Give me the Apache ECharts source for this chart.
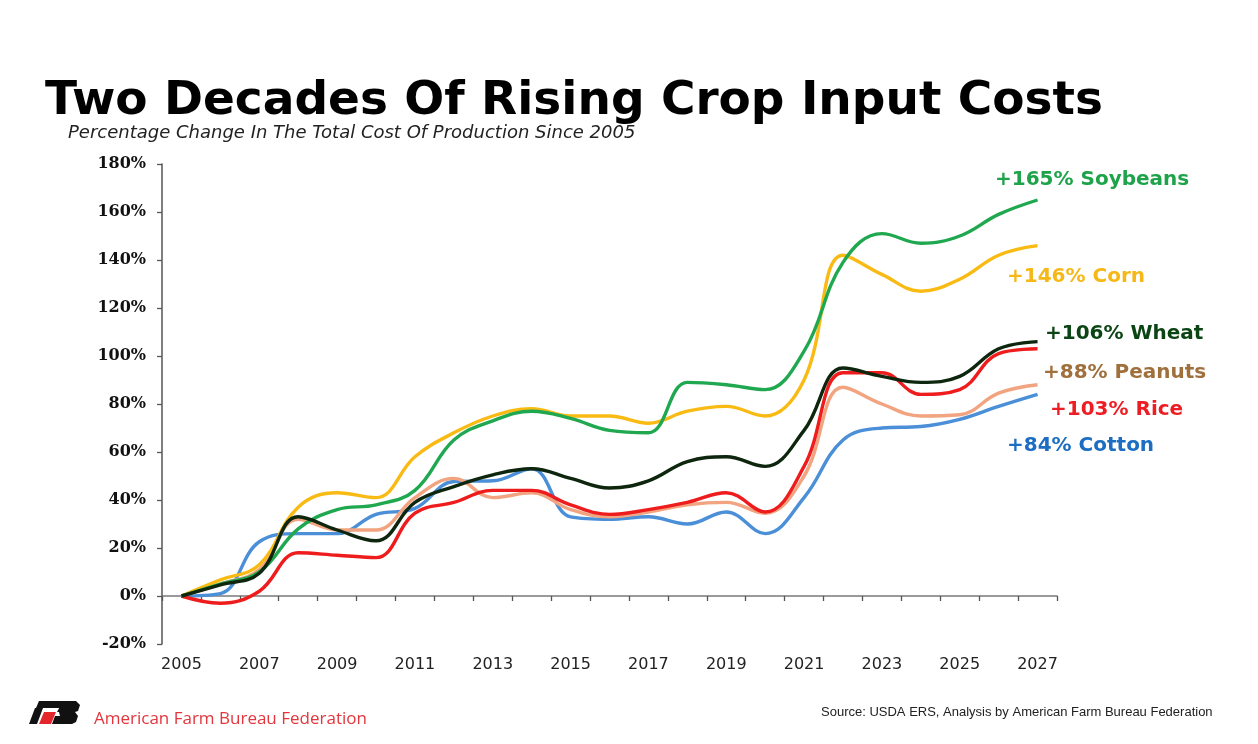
<!DOCTYPE html>
<html>
<head>
<meta charset="utf-8">
<title>Two Decades Of Rising Crop Input Costs</title>
<script src="https://cdn.jsdelivr.net/npm/echarts@6/dist/echarts.min.js"></script>
<style>
	html, body { margin: 0; padding: 0; background: #fff; }
	#main { width: 1258px; height: 744px; }
</style>
</head>
<body>
<div id="main"></div>
<script>
// 年份
var years = ['2005', '2006', '2007', '2008', '2009', '2010', '2011', '2012', '2013', '2014', '2015', '2016',
	'2017', '2018', '2019', '2020', '2021', '2022', '2023', '2024', '2025', '2026', '2027'];

// 各作物 相对2005 的变化 (%)
var soybeans = [0, 5, 10, 28, 36, 38, 44, 65, 73, 77, 74, 69, 68, 89, 88, 86, 102, 139, 151, 147, 150, 159, 165];
var corn = [0, 6.7, 13, 37, 43, 41, 58, 68, 75, 78, 75, 75, 72, 77, 79, 75, 90, 142, 134, 127, 132, 142, 146];
var wheat = [0, 4.6, 9.5, 33, 27.5, 23, 39, 45.6, 50.5, 53, 49, 45, 48, 56, 58, 54, 69, 95, 91.5, 89, 91.5, 103, 106];
var peanuts = [0, 5, 11, 32, 27.5, 27.5, 41, 49, 41, 43, 36, 33, 35, 38, 39, 34.5, 50, 87, 80, 75, 75.5, 84.5, 88];
var rice = [0, -3, 2, 18, 17, 16, 34.5, 39, 44, 44, 38, 34, 36, 39, 43, 35, 54, 93, 93, 84, 86, 101, 103];
var cotton = [0, 1, 22.6, 26, 26, 34, 36.5, 47.7, 48, 53, 33, 32, 33, 30, 35, 26, 41, 65, 70, 70.6, 73.6, 79, 84];

// 右侧标注
var cropNames = ['Soybeans', 'Corn', 'Wheat', 'Peanuts', 'Rice', 'Cotton'];
var endValues = [165, 146, 106, 88, 103, 84];

var lineColors = ['#1fa84f', '#f9bb13', '#0d260d', '#f1a47f', '#ee1c1c', '#4a8fd8'];
var labelColors = ['#1ea34a', '#f6b817', '#0b4514', '#a0703c', '#ee1d23', '#1b6ec2'];
var labelPos = [[995, 178], [1007, 275], [1045, 332], [1043, 371], [1050, 408], [1007, 444]];

var myChart = echarts.init(document.getElementById('main'));

var seriesData = [soybeans, corn, wheat, peanuts, rice, cotton];
// 画的先后顺序 (后画的在上面)
var drawOrder = [5, 3, 4, 1, 0, 2];
var series = [];
drawOrder.forEach(function(i) {
	series.push({
		name: cropNames[i],
		type: 'line',
		xAxisIndex: 0,
		data: seriesData[i],
		smooth: 0.4,
		showSymbol: false,
		symbol: 'none',
		lineStyle: { color: lineColors[i], width: 3.4 },
		z: 3
	});
});

var graphics = [
	{
		type: 'text', left: 45, top: 78,
		style: { text: 'Two Decades Of Rising Crop Input Costs', fill: '#000',
			font: 'bold 47px "DejaVu Sans"' }
	},
	{
		type: 'text', left: 68, top: 124,
		style: { text: 'Percentage Change In The Total Cost Of Production Since 2005', fill: '#222',
			font: 'italic 18px "DejaVu Sans"' }
	},
	// 底部 logo (简化)
	{
		type: 'polygon', shape: { points: [[39, 701], [64, 701], [61, 708], [36, 708]] },
		style: { fill: '#111' }
	},
	{
		type: 'polygon', shape: { points: [[35, 708], [43, 708], [37, 724], [29, 724]] },
		style: { fill: '#111' }
	},
	{
		type: 'polygon', shape: { points: [[44, 712], [56, 712], [51, 724], [39, 724]] },
		style: { fill: '#e2262c' }
	},
	{
		type: 'polygon', shape: { points: [[63, 701], [76, 701], [80, 705], [78, 711], [75, 712], [78, 716], [76, 722], [72, 724], [52, 724], [55, 716], [60, 716], [59, 712], [57, 712]] },
		style: { fill: '#111' }
	},
	{
		type: 'text', left: 94, top: 711,
		style: { text: 'American Farm Bureau Federation', fill: '#e2363c', font: '17px "Open Sans"' }
	},
	{
		type: 'text', left: 821, top: 706,
		style: { text: 'Source: USDA ERS, Analysis by American Farm Bureau Federation', fill: '#222',
			font: '13px "Liberation Sans Narrow", "Liberation Sans"' }
	}
];

cropNames.forEach(function(name, i) {
	graphics.push({
		type: 'text', left: labelPos[i][0], top: labelPos[i][1] - 8,
		style: { text: '+' + endValues[i] + '% ' + name, fill: labelColors[i],
			font: 'bold 20px "DejaVu Sans"' }
	});
});

var option = {
	backgroundColor: '#fff',
	animation: false,
	grid: { left: 162, right: 201, top: 164, bottom: 100 },
	xAxis: [
		{
			// 只显示底部年份
			type: 'category',
			data: years,
			position: 'bottom',
			boundaryGap: true,
			axisLine: { show: false, onZero: false },
			axisTick: { show: false },
			axisLabel: { interval: 1, margin: 13, color: '#222', fontSize: 16, fontFamily: 'DejaVu Sans' }
		},
		{
			// 0% 处的轴线和刻度
			type: 'category',
			data: years,
			position: 'bottom',
			boundaryGap: true,
			axisLine: { show: true, onZero: true, lineStyle: { color: '#7a7a7a', width: 1.5 } },
			axisTick: { show: true, interval: 0, length: 5, lineStyle: { color: '#555', width: 1.3 } },
			axisLabel: { show: false }
		}
	],
	yAxis: {
		type: 'value',
		min: -20,
		max: 180,
		interval: 20,
		axisLine: { show: true, lineStyle: { color: '#555', width: 1.5 } },
		axisTick: { show: true, length: 5, lineStyle: { color: '#555', width: 1.3 } },
		splitLine: { show: false },
		axisLabel: {
			formatter: '{value}%', margin: 16, color: '#111',
			fontSize: 16, fontWeight: 'bold', fontFamily: 'DejaVu Serif'
		}
	},
	series: series,
	graphic: graphics
};
myChart.setOption(option);
</script>
</body>
</html>
